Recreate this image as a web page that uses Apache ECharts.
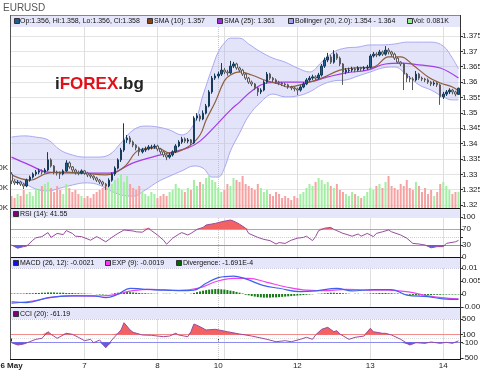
<!DOCTYPE html>
<html><head><meta charset="utf-8">
<script src="https://cdn.jsdelivr.net/npm/echarts@6/dist/echarts.min.js"></script>
<style>html,body{margin:0;padding:0;background:#fff}#c{width:480px;height:370px}</style>
</head><body><div id="c"></div>
<script>
// ---------- DATA ----------
// hourly candles: [open, close, low, high]
const ohlc = [
[1.3301,1.3278,1.3268,1.3307],[1.3278,1.3272,1.3265,1.3284],[1.3272,1.3275,1.3266,1.3281],[1.3275,1.3268,1.3262,1.3279],
[1.3268,1.3262,1.3252,1.3272],[1.3262,1.3281,1.3258,1.3286],[1.3281,1.3291,1.3276,1.3296],[1.3291,1.3301,1.3286,1.3306],
[1.3301,1.3307,1.3295,1.3314],[1.3307,1.3311,1.3300,1.3318],[1.3311,1.3307,1.3299,1.3316],[1.3307,1.3314,1.3303,1.3320],
[1.3314,1.3347,1.3310,1.3372],[1.3347,1.3327,1.3322,1.3352],[1.3327,1.3307,1.3300,1.3330],[1.3307,1.3304,1.3296,1.3312],
[1.3304,1.3301,1.3285,1.3309],[1.3301,1.3311,1.3297,1.3316],[1.3311,1.3337,1.3308,1.3346],[1.3337,1.3324,1.3318,1.3342],
[1.3324,1.3314,1.3307,1.3327],[1.3314,1.3307,1.3299,1.3318],[1.3307,1.3304,1.3297,1.3312],[1.3304,1.3311,1.3300,1.3316],
[1.3311,1.3304,1.3298,1.3314],[1.3304,1.3298,1.3291,1.3308],[1.3298,1.3294,1.3287,1.3303],[1.3294,1.3288,1.3281,1.3297],
[1.3288,1.3281,1.3275,1.3292],[1.3281,1.3275,1.3268,1.3285],[1.3275,1.3268,1.3262,1.3279],[1.3268,1.3262,1.3249,1.3272],
[1.3262,1.3281,1.3258,1.3287],[1.3281,1.3301,1.3276,1.3306],[1.3301,1.3320,1.3295,1.3326],[1.3320,1.3347,1.3316,1.3352],
[1.3347,1.3379,1.3340,1.3386],[1.3379,1.3412,1.3373,1.3466],[1.3412,1.3418,1.3402,1.3428],[1.3418,1.3405,1.3398,1.3425],
[1.3405,1.3395,1.3388,1.3410],[1.3395,1.3386,1.3378,1.3398],[1.3386,1.3373,1.3360,1.3390],[1.3373,1.3379,1.3368,1.3386],
[1.3379,1.3382,1.3373,1.3390],[1.3382,1.3389,1.3378,1.3395],[1.3387,1.3389,1.3381,1.3396],[1.3389,1.3392,1.3383,1.3398],
[1.3392,1.3382,1.3375,1.3396],[1.3382,1.3373,1.3366,1.3386],[1.3373,1.3363,1.3356,1.3377],[1.3363,1.3356,1.3346,1.3366],
[1.3356,1.3363,1.3351,1.3370],[1.3363,1.3373,1.3358,1.3378],[1.3373,1.3392,1.3369,1.3398],[1.3392,1.3405,1.3388,1.3411],
[1.3405,1.3415,1.3399,1.3422],[1.3415,1.3408,1.3402,1.3420],[1.3408,1.3412,1.3401,1.3418],[1.3412,1.3402,1.3395,1.3415],
[1.3402,1.3483,1.3398,1.3489],[1.3483,1.3490,1.3475,1.3499],[1.3490,1.3480,1.3472,1.3496],[1.3480,1.3499,1.3476,1.3508],
[1.3499,1.3522,1.3495,1.3529],[1.3522,1.3568,1.3518,1.3574],[1.3568,1.3613,1.3562,1.3620],[1.3613,1.3620,1.3607,1.3628],
[1.3620,1.3626,1.3612,1.3634],[1.3626,1.3639,1.3620,1.3662],[1.3639,1.3633,1.3626,1.3646],[1.3633,1.3630,1.3621,1.3640],
[1.3630,1.3652,1.3626,1.3669],[1.3652,1.3659,1.3646,1.3666],[1.3659,1.3646,1.3640,1.3663],[1.3646,1.3639,1.3632,1.3650],
[1.3639,1.3626,1.3620,1.3643],[1.3626,1.3613,1.3607,1.3630],[1.3613,1.3600,1.3594,1.3617],[1.3600,1.3594,1.3587,1.3605],
[1.3594,1.3581,1.3574,1.3597],[1.3581,1.3568,1.3555,1.3585],[1.3568,1.3574,1.3561,1.3580],[1.3574,1.3600,1.3570,1.3606],
[1.3600,1.3626,1.3595,1.3633],[1.3626,1.3613,1.3607,1.3630],[1.3613,1.3607,1.3600,1.3617],[1.3607,1.3600,1.3594,1.3612],
[1.3600,1.3597,1.3590,1.3604],[1.3597,1.3594,1.3587,1.3601],[1.3594,1.3591,1.3584,1.3598],[1.3591,1.3584,1.3578,1.3595],
[1.3584,1.3581,1.3574,1.3588],[1.3581,1.3578,1.3570,1.3585],[1.3578,1.3574,1.3558,1.3582],[1.3574,1.3584,1.3569,1.3590],
[1.3584,1.3594,1.3580,1.3600],[1.3594,1.3607,1.3590,1.3613],[1.3607,1.3613,1.3602,1.3620],[1.3613,1.3617,1.3607,1.3624],
[1.3617,1.3613,1.3605,1.3622],[1.3613,1.3623,1.3608,1.3630],[1.3623,1.3652,1.3618,1.3659],[1.3652,1.3672,1.3646,1.3680],
[1.3672,1.3682,1.3665,1.3695],[1.3682,1.3665,1.3659,1.3689],[1.3665,1.3691,1.3660,1.3704],[1.3691,1.3678,1.3672,1.3696],
[1.3678,1.3659,1.3652,1.3683],[1.3659,1.3633,1.3591,1.3662],[1.3633,1.3639,1.3626,1.3646],[1.3637,1.3639,1.3630,1.3647],
[1.3639,1.3643,1.3633,1.3650],[1.3643,1.3639,1.3632,1.3648],[1.3639,1.3646,1.3635,1.3652],[1.3646,1.3643,1.3636,1.3650],
[1.3643,1.3646,1.3637,1.3652],[1.3646,1.3649,1.3640,1.3656],[1.3649,1.3685,1.3644,1.3691],[1.3685,1.3691,1.3680,1.3698],
[1.3691,1.3688,1.3681,1.3697],[1.3688,1.3698,1.3684,1.3705],[1.3698,1.3691,1.3685,1.3703],[1.3691,1.3704,1.3686,1.3717],
[1.3704,1.3698,1.3690,1.3711],[1.3698,1.3691,1.3683,1.3702],[1.3691,1.3678,1.3672,1.3696],[1.3678,1.3665,1.3660,1.3682],
[1.3665,1.3659,1.3652,1.3668],[1.3659,1.3626,1.3574,1.3663],[1.3626,1.3613,1.3600,1.3630],[1.3613,1.3610,1.3600,1.3620],
[1.3610,1.3607,1.3574,1.3616],[1.3607,1.3626,1.3602,1.3636],[1.3626,1.3613,1.3607,1.3630],[1.3613,1.3610,1.3603,1.3618],
[1.3610,1.3607,1.3600,1.3614],[1.3607,1.3600,1.3594,1.3612],[1.3600,1.3594,1.3587,1.3604],[1.3594,1.3597,1.3588,1.3603],
[1.3597,1.3591,1.3584,1.3600],[1.3591,1.3552,1.3526,1.3595],[1.3552,1.3561,1.3545,1.3568],[1.3561,1.3568,1.3555,1.3574],
[1.3568,1.3574,1.3561,1.3580],[1.3574,1.3568,1.3560,1.3578],[1.3568,1.3561,1.3554,1.3572],[1.3560,1.3580,1.3558,1.3582]
];
// volume in K
const volume = [
.06,.05,.07,.06,.09,.07,.08,.06, .10,.09,.11,.12,.13,.10,.08,.11,
.09,.07,.12,.10,.08,.09,.07,.06, .05,.06,.05,.07,.08,.09,.10,.12,
.11,.12,.14,.15,.17,.13,.16,.12, .10,.09,.11,.08,.07,.06,.08,.07,
.05,.06,.07,.06,.08,.09,.12,.10, .09,.08,.10,.09,.14,.11,.13,.12,
.15,.16,.14,.13,.10,.08,.09,.12, .11,.15,.14,.13,.16,.12,.11,.10,
.09,.12,.10,.08,.09,.07,.06,.08, .07,.05,.06,.05,.04,.06,.05,.07,
.08,.10,.12,.11,.13,.15,.14,.12, .13,.11,.10,.12,.09,.08,.07,.06,
.08,.07,.06,.05,.06,.08,.10,.09, .11,.12,.10,.13,.16,.11,.10,.09,
.12,.11,.14,.10,.09,.13,.11,.08, .10,.07,.09,.06,.08,.12,.13,.11,
.09,.07,.08,.081
];
// [candle index, value]
const sma10 = [[0,1.3298],[6,1.3281],[12,1.3304],[18,1.3307],[23,1.3304],[31,1.3298],[37,1.3324],[42,1.3379],[48,1.3386],[52,1.3369],[58,1.3389],[62,1.3428],[64,1.3477],[67,1.3535],[70,1.3604],[72,1.3623],[75,1.3633],[79,1.3623],[84,1.3604],[88,1.3594],[91,1.3584],[97,1.3597],[102,1.3613],[108,1.3639],[113,1.3646],[119,1.3649],[124,1.3682],[128,1.3682],[132,1.3656],[137,1.3617],[141,1.3597],[145,1.3584],[147,1.3571]];
const sma25 = [[0,1.3356],[6,1.3330],[12,1.3307],[23,1.3304],[32,1.3304],[40,1.3337],[49,1.3363],[58,1.3386],[62,1.3408],[67,1.3457],[72,1.3509],[75,1.3535],[79,1.3571],[84,1.3597],[90,1.3600],[97,1.3600],[104,1.3617],[110,1.3630],[117,1.3639],[123,1.3659],[128,1.3662],[134,1.3656],[141,1.3646],[147,1.3613]];
const bbIndex = [0,4,8,12,16,20,24,28,32,36,40,44,48,52,56,60,63,66,68,70,72,75,78,82,86,90,94,98,102,106,110,114,118,122,126,130,134,138,142,145,147];
const bbUpper = [1.3421,1.3425,1.3421,1.3412,1.3379,1.3363,1.3356,1.3356,1.3363,1.3402,1.3444,1.3457,1.3454,1.3444,1.3428,1.3464,1.3558,1.3646,1.3698,1.3727,1.3743,1.3743,1.3724,1.3698,1.3678,1.3665,1.3646,1.3633,1.3665,1.3698,1.3711,1.3714,1.3721,1.3721,1.3724,1.3730,1.3730,1.3730,1.3717,1.3678,1.3643];
const bbLower = [1.3288,1.3272,1.3252,1.3246,1.3255,1.3265,1.3272,1.3268,1.3249,1.3233,1.3229,1.3249,1.3275,1.3294,1.3311,1.3327,1.3320,1.3291,1.3291,1.3320,1.3376,1.3434,1.3490,1.3535,1.3561,1.3552,1.3555,1.3568,1.3591,1.3604,1.3607,1.3620,1.3633,1.3646,1.3649,1.3623,1.3591,1.3574,1.3552,1.3542,1.3542];
const rsi = [[0,30],[2,22],[4,26],[5,27.5],[7,42],[8,48],[10,51],[12,61],[13,49],[15,59],[17,56],[18,66],[20,59],[21,52],[23,51],[26,42],[28,51],[29,47],[31,38],[33,49],[35,59],[37,67.5],[40,65],[41,63],[43,62],[45,72],[46,66],[48,55],[50,42],[51,32],[53,47],[55,57],[56,61],[58,55],[59,59],[61,69],[63,74],[64,80],[67,84],[69,88],[72,92.5],[73,90],[75,82],[77,72],[78,59],[81,49],[83,44],[85,41],[87,32.5],[88,36],[90,34],[92,42],[94,47],[96,49],[97,52],[99,41],[100,51],[101,66],[103,72],[105,74],[106,69],[107,66],[109,59],[110,57],[112,52],[114,57.5],[115,52],[117,59],[119,51],[120,59],[122,63],[124,67.5],[125,63],[128,55],[130,47],[132,34],[134,32.5],[136,30],[138,23],[140,26],[142,26],[143,34],[146,38],[147,41.55]];
const macd = [[0,-0.0030],[5,-0.0033],[12,-0.0014],[20,-0.0007],[27,-0.0007],[31,-0.0014],[35,-0.0001],[39,0.0022],[43,0.0019],[49,0.0015],[55,0.0013],[60,0.0015],[64,0.0041],[68,0.0063],[73,0.0069],[77,0.0058],[83,0.0032],[88,0.0022],[95,0.0009],[100,0.0012],[107,0.0022],[112,0.0012],[119,0.0017],[125,0.0017],[130,-0.0004],[137,-0.0010],[142,-0.0019],[147,-0.0021]];
const macdExp = [[0,-0.0036],[7,-0.0027],[18,-0.0007],[27,-0.0008],[33,-0.0004],[40,0.0013],[46,0.0018],[55,0.0014],[62,0.0024],[67,0.0047],[73,0.0060],[78,0.0060],[84,0.0045],[90,0.0028],[97,0.0015],[104,0.0013],[110,0.0018],[117,0.0015],[124,0.0015],[131,0.0007],[137,-0.0007],[144,-0.0017],[147,-0.0019]];
// divergence per candle, in units of 1E-4
const divergenceE4 = [
2,2,2,2,2,3,3,3, 4,4,5,5,6,6,6,5,5,5,4,4,4, 3,3,2,2,1,1,0,-1, -2,-2,-1,0,1,
3,5,7,8,8,7,6,5,4, 3,3,2,2,1,1,0,1, 1,1,0,1,0,0,1,0,1,
4,7,10,13,15,17,18,19,19,18,17,15,13,11,8,5,2,
-3,-5,-8,-10,-12,-13,-14,-14,-14,-13,-13,-12,-11,-10,-9,-8,-7,-6,-5,-4,-3,-2,-1,0,
1,2,3,4,5,5,4,4,3,2, 1,0,1,1,0,1,1, 2,3,3,4,4,4,3,3,2,2,1,
-1,-2,-3,-4,-5,-5,-5,-5,-4,-4,-3,-3,-3,-2,-2,-2,-2,-2,-1.7
];
const cci = [[0,-109],[2,-169],[4,-143],[6,-83],[8,-21],[10,5],[12,177],[13,109],[15,5],[16,47],[18,135],[20,109],[22,31],[24,-57],[26,-21],[27,-109],[29,-39],[31,-239],[33,-39],[35,135],[36,221],[37,410],[39,221],[40,161],[43,91],[46,83],[50,47],[52,65],[54,135],[55,91],[58,47],[59,177],[60,377],[62,306],[64,221],[67,239],[71,177],[75,117],[79,65],[84,-21],[87,-83],[90,-57],[92,-83],[95,-21],[97,31],[99,-21],[100,91],[102,239],[104,291],[106,177],[107,203],[108,117],[111,-21],[113,31],[116,65],[118,265],[119,177],[122,135],[123,135],[125,91],[128,-21],[131,-169],[133,-109],[136,-125],[138,-91],[141,-125],[143,-99],[145,-125],[147,-61]];
// axis ticks / labels
const dayTickIndex = [0,24,48,68,94,118,142];
const dayTickText = ['6 May','7','8','10','12','13','14'];
const dayLineIndex = [24,48,70,94,118,142];
const dottedLineIndex = [68];
const volTicks = [0,0.1,0.2];
const rsiTicks = [0,30,70,100];
const macdTicks = [-0.005,0,0.005,0.01];
const cciTicks = [-500,-100,100,500];

// ---------- CHART ----------
const FONT = '"Liberation Sans", Arial, sans-serif';
const chart = echarts.init(document.getElementById('c'));
const categories = ohlc.map((_, i) => 'h' + i);
const L = 10, W = 450;
const gbase = {left:L, width:W, containLabel:false, outerBoundsMode:'none'};
const grids = [
  Object.assign({top:20.635, height:184.4}, gbase),
  Object.assign({top:15, height:193}, gbase),
  Object.assign({top:209, height:48}, gbase),
  Object.assign({top:257, height:50}, gbase),
  Object.assign({top:307, height:52}, gbase)
];
const xAxes = grids.map((g, k) => ({
  type:'category', gridIndex:k, data:categories, boundaryGap:true,
  axisLine:{show:false}, axisTick:{show:false}, axisLabel:{show:false}, splitLine:{show:false}
}));
xAxes[4].axisTick = {show:true, alignWithLabel:true, length:3, lineStyle:{color:'#333'},
  interval:(i)=>dayTickIndex.indexOf(i) >= 0};
xAxes[4].axisLabel = {show:true, interval:(i)=>dayTickIndex.indexOf(i) >= 0, margin:3, hideOverlap:false,
  fontSize:8, color:'#222', fontFamily:FONT,
  formatter:(v, i)=>{ const k = dayTickIndex.indexOf(i); if (k < 0) return ''; return k === 0 ? '{b|' + dayTickText[k] + '}' : dayTickText[k]; },
  rich:{b:{fontWeight:'bold', fontSize:8, fontFamily:FONT, color:'#222'}}};

const lblBase = {fontSize:8, color:'#222', fontFamily:FONT, margin:2, hideOverlap:false};
const tickBase = {show:true, length:3, lineStyle:{color:'#333'}};
const yAxes = [
  {type:'value', gridIndex:0, position:'right', min:1.32, max:1.38, interval:0.005, scale:true,
   axisLine:{show:false}, axisTick:Object.assign({}, tickBase),
   axisLabel:Object.assign({showMaxLabel:false}, lblBase),
   splitLine:{show:true, lineStyle:{color:'#e4e4e4', width:1}}},
  {type:'value', gridIndex:1, position:'left', min:0, max:0.965,
   axisLine:{show:false}, axisTick:{show:false}, splitLine:{show:false},
   axisLabel:Object.assign({customValues:volTicks, inside:false, align:'right', formatter:(v)=>v.toFixed(2)+'K'}, lblBase)},
  {type:'value', gridIndex:2, position:'right', min:0, max:120,
   axisLine:{show:false}, splitLine:{show:false},
   axisTick:Object.assign({customValues:[0,30,50,70,100]}, tickBase),
   axisLabel:Object.assign({customValues:rsiTicks, color:(v)=> +v===70 ? '#f08080' : (+v===30 ? '#8a8af0' : '#222')}, lblBase)},
  {type:'value', gridIndex:3, position:'right', min:-0.005, max:0.014231,
   axisLine:{show:false}, splitLine:{show:false},
   axisTick:Object.assign({customValues:macdTicks}, tickBase),
   axisLabel:Object.assign({customValues:macdTicks}, lblBase)},
  {type:'value', gridIndex:4, position:'right', min:-532, max:818,
   axisLine:{show:false}, splitLine:{show:false},
   axisTick:Object.assign({customValues:cciTicks}, tickBase),
   axisLabel:Object.assign({customValues:cciTicks, color:(v)=> +v===100 ? '#f08080' : (+v===-100 ? '#8a8af0' : '#222')}, lblBase)}
];

function vLines() {
  return dayLineIndex.map(i => ({xAxis:i, lineStyle:{color:'#dedede', type:'solid', width:1}}))
    .concat(dottedLineIndex.map(i => ({xAxis:i, lineStyle:{color:'#c8c8c8', type:'dotted', width:1}})));
}
function hLine(v, color, type) { return {yAxis:v, lineStyle:{color:color, type:type || 'solid', width:1}}; }
function mk(data, z) { return {symbol:'none', silent:true, animation:false, label:{show:false}, data:data, z:z || 1}; }

const volData = volume.map((v, i) => {
  const o = ohlc[i][0], c = ohlc[i][1];
  return {value:v, itemStyle:{color: c > o ? '#a2eea2' : (c < o ? '#f6a2a2' : '#c8c8c8')}};
});
const bbLow = bbIndex.map((i, k) => [i, bbLower[k]]);
const bbDiff = bbIndex.map((i, k) => [i, +(bbUpper[k] - bbLower[k]).toFixed(5)]);
const rsiHiBase = rsi.map(p => [p[0], 70]);
const rsiHiFill = rsi.map(p => [p[0], Math.max(p[1] - 70, 0)]);
const rsiLoBase = rsi.map(p => [p[0], Math.min(p[1], 30)]);
const rsiLoFill = rsi.map(p => [p[0], 30 - Math.min(p[1], 30)]);
const cciHiBase = cci.map(p => [p[0], 100]);
const cciHiFill = cci.map(p => [p[0], Math.max(p[1] - 100, 0)]);
const cciLoBase = cci.map(p => [p[0], Math.min(p[1], -100)]);
const cciLoFill = cci.map(p => [p[0], -100 - Math.min(p[1], -100)]);
const divergence = divergenceE4.map(v => v * 1e-4);

const hidden = {lineStyle:{opacity:0}, symbol:'none', silent:true};
const series = [
  {type:'bar', xAxisIndex:1, yAxisIndex:1, data:volData, barWidth:2, z:2, silent:true, markLine:mk(vLines(), 1)},
  {type:'line', xAxisIndex:0, yAxisIndex:0, data:bbLow, stack:'bb', smooth:0.4, symbol:'none', z:1,
   lineStyle:{color:'#a9a9f2', width:1}},
  {type:'line', xAxisIndex:0, yAxisIndex:0, data:bbDiff, stack:'bb', smooth:0.4, symbol:'none', z:1,
   lineStyle:{color:'#a9a9f2', width:1}, areaStyle:{color:'rgba(176,176,240,0.5)'}},
  {type:'line', xAxisIndex:0, yAxisIndex:0, data:sma25, smooth:0.4, symbol:'none', z:3, lineStyle:{color:'#a43ce8', width:1.2}},
  {type:'line', xAxisIndex:0, yAxisIndex:0, data:sma10, smooth:0.4, symbol:'none', z:3, lineStyle:{color:'#8e5f3c', width:1.2}},
  {type:'candlestick', xAxisIndex:0, yAxisIndex:0, data:ohlc, barWidth:2, z:5,
   itemStyle:{color:'#1e5d8c', borderColor:'#163c5a', color0:'#eeeeee', borderColor0:'#5a5a5a', borderWidth:1}},
  Object.assign({type:'line', xAxisIndex:2, yAxisIndex:2, data:rsiHiBase, stack:'rh'}, hidden),
  Object.assign({type:'line', xAxisIndex:2, yAxisIndex:2, data:rsiHiFill, stack:'rh', areaStyle:{color:'#f36262', opacity:1}}, hidden),
  Object.assign({type:'line', xAxisIndex:2, yAxisIndex:2, data:rsiLoBase, stack:'rl'}, hidden),
  Object.assign({type:'line', xAxisIndex:2, yAxisIndex:2, data:rsiLoFill, stack:'rl', areaStyle:{color:'#5c5ce6', opacity:1}}, hidden),
  {type:'line', xAxisIndex:2, yAxisIndex:2, data:rsi, symbol:'none', z:4, lineStyle:{color:'#9a4c9e', width:1},
   markLine:mk(vLines().concat([hLine(70,'#f58a8a'), hLine(30,'#8c8cf2'), hLine(100,'#c8c8e0','dotted'), hLine(50,'#d0d0d0','dotted')]), 1)},
  {type:'bar', xAxisIndex:3, yAxisIndex:3, data:divergence, barWidth:2, z:2, itemStyle:{color:'#167a16'}, silent:true,
   markLine:mk(vLines().concat([hLine(0.01,'#c8c8e0','dotted')]), 1)},
  {type:'line', xAxisIndex:3, yAxisIndex:3, data:macdExp, smooth:0.4, symbol:'none', z:3, lineStyle:{color:'#ee44ee', width:1.2}},
  {type:'line', xAxisIndex:3, yAxisIndex:3, data:macd, smooth:0.4, symbol:'none', z:4, lineStyle:{color:'#4060f0', width:1.2}},
  Object.assign({type:'line', xAxisIndex:4, yAxisIndex:4, data:cciHiBase, stack:'ch', stackStrategy:'all'}, hidden),
  Object.assign({type:'line', xAxisIndex:4, yAxisIndex:4, data:cciHiFill, stack:'ch', stackStrategy:'all', areaStyle:{color:'#f36262', opacity:1}}, hidden),
  Object.assign({type:'line', xAxisIndex:4, yAxisIndex:4, data:cciLoBase, stack:'cl', stackStrategy:'all'}, hidden),
  Object.assign({type:'line', xAxisIndex:4, yAxisIndex:4, data:cciLoFill, stack:'cl', stackStrategy:'all', areaStyle:{color:'#5c5ce6', opacity:1}}, hidden),
  {type:'line', xAxisIndex:4, yAxisIndex:4, data:cci, symbol:'none', z:4, lineStyle:{color:'#9a4c9e', width:1},
   markLine:mk(vLines().concat([hLine(100,'#f58a8a'), hLine(-100,'#8c8cf2'), hLine(0,'#dddddd','dotted'), hLine(500,'#c8c8e0','dotted')]), 1)}
];

// ---------- decorations ----------
const txt = (x, y, s, extra) => ({type:'text', x:x, y:y, z:100, silent:true,
  style:Object.assign({text:s, fill:'#111', font:'7px ' + FONT, verticalAlign:'middle'}, extra || {})});
const sq = (x, y, c) => ({type:'rect', z:100, silent:true, shape:{x:x+0.5, y:y+0.5, width:5, height:5}, style:{fill:c, stroke:'#333', lineWidth:1}});
const band = (y, h) => ({type:'rect', z:90, silent:true, shape:{x:11, y:y, width:449, height:h}, style:{fill:'#e6e6fa'}});
const hl = (y, c) => ({type:'line', z:95, silent:true, shape:{x1:10, y1:y, x2:461, y2:y}, style:{stroke:c, lineWidth:1}});
const vl = (x, c) => ({type:'line', z:95, silent:true, shape:{x1:x, y1:15, x2:x, y2:359}, style:{stroke:c, lineWidth:1}});

const graphic = [
  {type:'text', x:3, y:8, z:100, style:{text:'EURUSD', fill:'#555', font:'10px ' + FONT, verticalAlign:'middle'}},
  band(16, 11), band(209, 9), band(258, 10), band(308, 11),
  hl(15.5, '#888'), hl(208.5, '#111'), hl(257.5, '#111'), hl(307.5, '#111'), hl(359.5, '#111'),
  vl(10.5, '#555'), vl(460.5, '#333'),
  sq(14, 18, '#1f5f8f'), txt(20, 21.5, 'Op:1.356, Hi:1.358, Lo:1.356, Cl:1.358'),
  sq(147, 18, '#8b4513'), txt(154, 21.5, 'SMA (10): 1.357'),
  sq(217, 18, '#9a30e0'), txt(224, 21.5, 'SMA (25): 1.361'),
  sq(288, 18, '#a0a0f0'), txt(295, 21.5, 'Bollinger (20, 2.0): 1.354 - 1.364'),
  sq(407, 18, '#90ee90'), txt(413, 21.5, 'Vol: 0.081K'),
  sq(13, 211, '#800080'), txt(20, 214, 'RSI (14): 41.55'),
  sq(13, 260, '#1010ee'), txt(20, 263.5, 'MACD (26, 12): -0.0021'),
  sq(105, 260, '#ff33ff'), txt(112, 263.5, 'EXP (9): -0.0019'),
  sq(176, 260, '#006400'), txt(183, 263.5, 'Divergence: -1.691E-4'),
  sq(13, 311, '#800080'), txt(20, 314, 'CCI (20): -61.19'),
  {type:'text', x:55, y:84, z:100, silent:true, style:{
    text:'{a|i}{b|FOREX}{a|.bg}', verticalAlign:'middle',
    rich:{a:{fill:'#222', font:'bold 17px ' + FONT}, b:{fill:'#e3101a', font:'bold 17px ' + FONT}}}}
];

chart.setOption({
  animation:false,
  backgroundColor:'#ffffff',
  grid:grids, xAxis:xAxes, yAxis:yAxes, series:series, graphic:graphic
});
</script></body></html>
